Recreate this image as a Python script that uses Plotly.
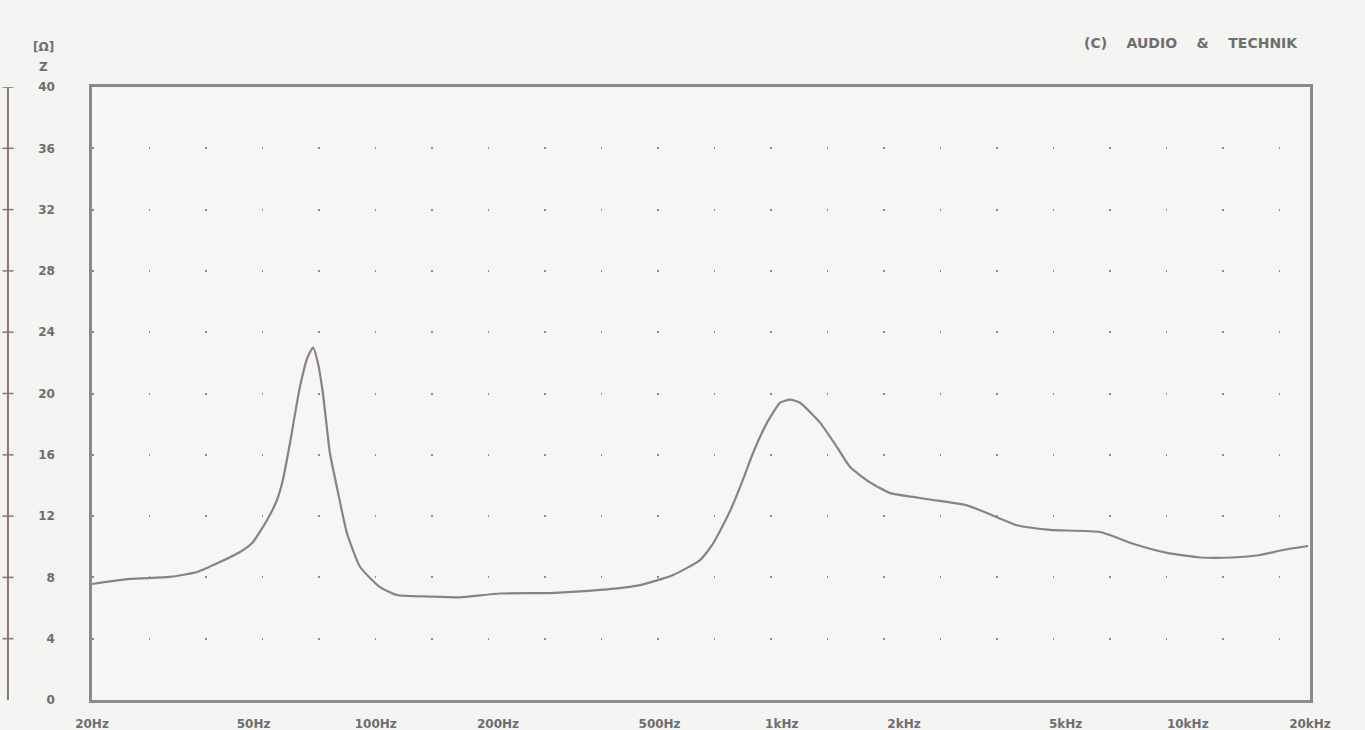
import plotly.graph_objects as go
import math

# Impedance curve (frequency in Hz, impedance in Ohm)
freq_hz = [20, 24.8, 31.1, 36.3, 41.3, 46.3, 49.8, 54.0, 57.1, 59.1, 61.5, 65.0, 68.0, 70.1,
           72.0, 74.1, 77.1, 80.2, 84.9, 91.5, 102.4, 112.8, 136, 161, 202, 269, 357, 448,
           540, 629, 677, 745, 802, 849, 920, 991, 1048, 1109, 1242, 1368, 1473, 1649,
           1848, 2106, 2357, 2858, 3201, 3794, 4580, 6083, 7330, 8890, 10720, 12920,
           15070, 17150, 19790]
impedance = [7.57, 7.9, 8.03, 8.35, 9.0, 9.66, 10.3, 11.75, 13.05, 14.4, 16.8, 20.4, 22.4, 23.0,
             22.0, 20.0, 16.1, 13.9, 10.9, 8.68, 7.37, 6.85, 6.75, 6.7, 6.95, 6.98, 7.18, 7.5,
             8.16, 9.13, 10.2, 12.3, 14.36, 16.1, 18.1, 19.4, 19.6, 19.4, 18.1, 16.5, 15.2, 14.2,
             13.5, 13.25, 13.05, 12.7, 12.2, 11.4, 11.1, 10.96, 10.2, 9.6, 9.3, 9.3,
             9.46, 9.79, 10.05]

x_tick_vals = [20, 50, 100, 200, 500, 1000, 2000, 5000, 10000, 20000]
x_tick_text = ["20Hz", "50Hz", "100Hz", "200Hz", "500Hz", "1kHz", "2kHz", "5kHz", "10kHz", "20kHz"]
y_tick_vals = [0, 4, 8, 12, 16, 20, 24, 28, 32, 36, 40]
y_tick_text = ["0", "4", "8", "12", "16", "20", "24", "28", "32", "36", "40"]

grey = "#6e6e6e"
curve_col = "#8c8088"
font_fam = "DejaVu Sans"
tick_font = dict(family=font_fam, size=12, color=grey, weight="bold")

fig = go.Figure()
fig.add_trace(go.Scatter(
    x=freq_hz, y=impedance, mode="lines",
    line=dict(color=curve_col, width=2.2, shape="spline", smoothing=0.5),
    showlegend=False, hoverinfo="x+y",
))

shapes = []
# outer left scale line
shapes.append(dict(type="line", xref="paper", yref="y", x0=-0.069, x1=-0.069, y0=0, y1=41.6,
                   line=dict(color="#8a7670", width=2)))
for v in y_tick_vals[1:]:
    shapes.append(dict(type="line", xref="paper", yref="y", x0=-0.0735, x1=-0.0645, y0=v, y1=v,
                       line=dict(color="#8a7670", width=1.5)))
shapes.append(dict(type="circle", xref="paper", yref="y", x0=-0.0728, x1=-0.0652, y0=40.9, y1=42.3,
                   fillcolor="#7a6e6a", line=dict(color="#7a6e6a", width=1)))

fig.update_layout(
    width=1365, height=730,
    margin=dict(l=92, r=55, t=87, b=30),
    paper_bgcolor="#f4f4f2", plot_bgcolor="#f6f6f4",
    font=dict(family=font_fam, color=grey, size=11),
    shapes=shapes,
    xaxis=dict(type="log", range=[math.log10(20), math.log10(20000)],
               tickvals=x_tick_vals, ticktext=x_tick_text, tickfont=tick_font,
               showgrid=False, zeroline=False, ticks="", automargin=False,
               showline=True, linecolor="#8a8a8a", linewidth=2.5, mirror=True,
               ticklabelstandoff=11),
    yaxis=dict(range=[0, 40], tickvals=y_tick_vals, ticktext=y_tick_text, tickfont=tick_font,
               showgrid=True, gridcolor="#8a8a8a", gridwidth=1.5, griddash="1.5px,55px",
               zeroline=False, ticks="", automargin=False,
               showline=True, linecolor="#8a8a8a", linewidth=2.5, mirror=True,
               ticklabelstandoff=32),
    annotations=[
        dict(text="[Ω]", xref="paper", yref="paper", x=-0.0395, y=1.066, showarrow=False,
             font=tick_font, xanchor="center", yanchor="middle"),
        dict(text="Z", xref="paper", yref="paper", x=-0.0395, y=1.033, showarrow=False,
             font=tick_font, xanchor="center", yanchor="middle"),
        dict(text="(C)    AUDIO    &    TECHNIK", xref="paper", yref="paper", x=0.992, y=1.072,
             showarrow=False, font=dict(family=font_fam, size=14, color=grey, weight="bold"),
             xanchor="right", yanchor="middle"),
    ],
)

fig.write_html("out.html", config={"displayModeBar": False},
               post_script="document.body.style.margin='0';document.body.style.background='#f4f4f2';")
